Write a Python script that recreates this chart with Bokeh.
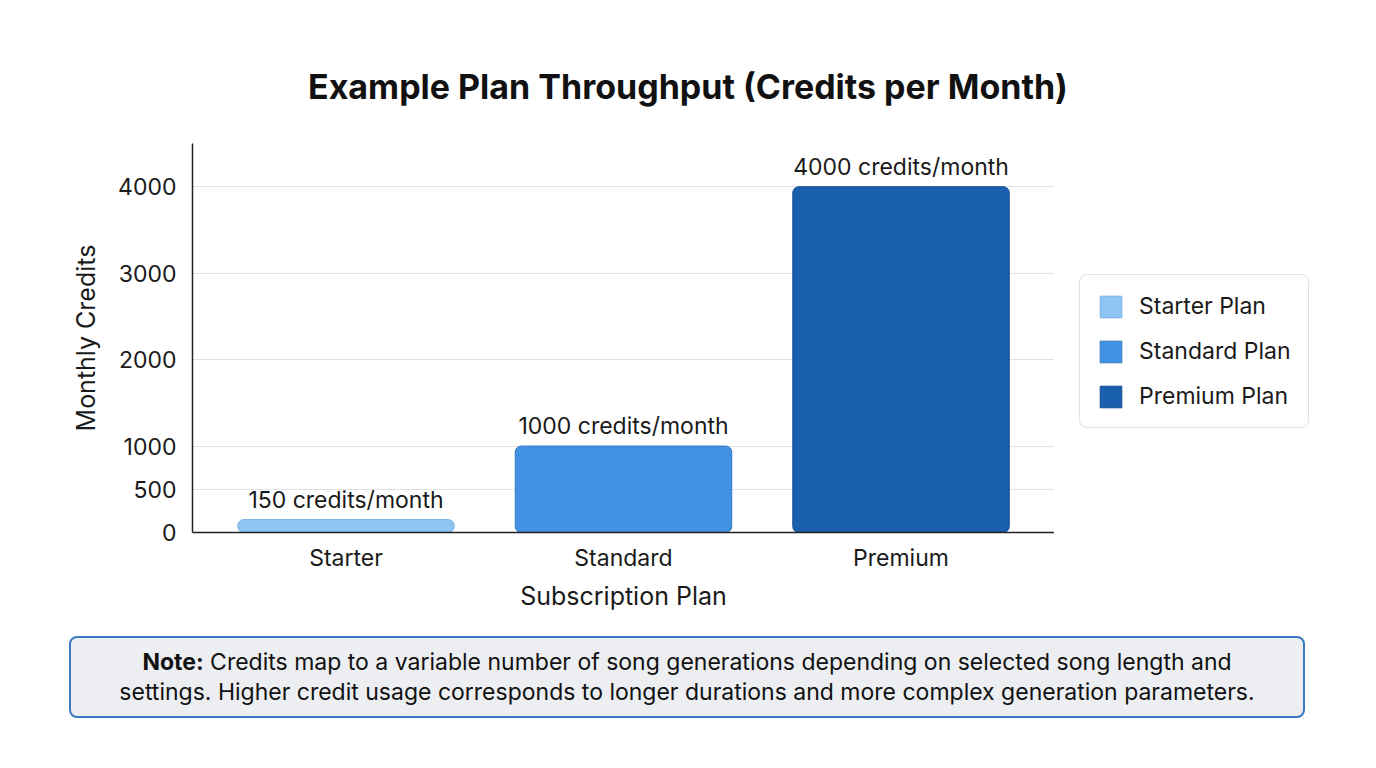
from bokeh.plotting import figure
from bokeh.models import (ColumnDataSource, FactorRange, FixedTicker, Legend, LegendItem,
                          Div, Range1d, VBar)
from bokeh.layouts import column, row
from bokeh.embed import file_html
from bokeh.resources import INLINE
from bokeh.core.properties import value

plans = ["Starter", "Standard", "Premium"]
credits = [150, 1000, 4000]
legend_labels = ["Starter Plan", "Standard Plan", "Premium Plan"]
bar_labels = ["150 credits/month", "1000 credits/month", "4000 credits/month"]
bar_colors = ["#8fc5f3", "#4391e2", "#1a5fae"]
edge_colors = ["#7ab3e6", "#3579c4", "#164f91"]
y_ticks = [0, 500, 1000, 2000, 3000, 4000]

title = "Example Plan Throughput (Credits per Month)"
note_html = ("<b>Note:</b> Credits map to a variable number of song generations depending on selected song length and"
             "<br>settings. Higher credit usage corresponds to longer durations and more complex generation parameters.")

FONT = "Inter"

src = ColumnDataSource(dict(plan=plans, credits=credits, label=bar_labels))

title_div = Div(text=title, width=1360, height=143, margin=0,
                styles={"font-family": FONT, "font-size": "34px", "font-weight": "700",
                        "color": "#111111", "text-align": "center", "line-height": "40px",
                        "box-sizing": "border-box", "padding-top": "67px", "padding-left": "16px",
                        "white-space": "nowrap"})

p = figure(x_range=FactorRange(factors=plans, range_padding=0.053, range_padding_units="absolute"),
           y_range=Range1d(0, 4500), width=1054, height=485,
           output_backend="svg", toolbar_location=None,
           min_border_left=192, min_border_right=0, min_border_top=0, min_border_bottom=96)

bar_kw = {}
if "border_radius" in VBar.properties():
    bar_kw["border_radius"] = 6

for i in range(len(plans)):
    one = ColumnDataSource(dict(plan=[plans[i]], credits=[credits[i]]))
    p.vbar(x="plan", top="credits", width=0.78, source=one,
           fill_color=bar_colors[i], line_color=edge_colors[i], line_width=1, **bar_kw)

p.text(x="plan", y="credits", text="label", source=src, text_align="center",
       text_baseline="bottom", y_offset=-6, text_font=value(FONT),
       text_font_size="23px", text_color="#1a1a1a")

p.xgrid.grid_line_color = None
p.ygrid.grid_line_color = "#e3e3e3"
p.ygrid.grid_line_width = 1.2
p.yaxis.ticker = FixedTicker(ticks=y_ticks)
p.outline_line_color = None

for ax in (p.xaxis, p.yaxis):
    ax.axis_line_color = "#222222"
    ax.axis_line_width = 1.5
    ax.major_tick_line_color = None
    ax.minor_tick_line_color = None
    ax.major_label_text_font = FONT
    ax.major_label_text_color = "#1a1a1a"
    ax.axis_label_text_font = FONT
    ax.axis_label_text_font_size = "25px"
    ax.axis_label_text_font_style = "normal"
    ax.axis_label_text_color = "#1a1a1a"

p.xaxis.major_label_text_font_size = "23px"
p.yaxis.major_label_text_font_size = "23px"
p.xaxis.major_label_standoff = 5
p.yaxis.major_label_standoff = 10
p.xaxis.axis_label = "Subscription Plan"
p.yaxis.axis_label = "Monthly Credits"
p.xaxis.axis_label_standoff = 6
p.yaxis.axis_label_standoff = 14

# separate narrow figure that only carries the legend, right of the plot
leg_fig = figure(x_range=FactorRange(factors=plans), y_range=Range1d(0, 4500),
                 width=306, height=485, x_axis_type=None, y_axis_type=None,
                 output_backend="svg", toolbar_location=None, min_border=0)
leg_fig.outline_line_color = None
leg_fig.grid.visible = False

items = []
for i in range(len(plans)):
    one = ColumnDataSource(dict(plan=[plans[i]], credits=[credits[i]]))
    r = leg_fig.vbar(x="plan", top="credits", width=0.78, source=one, visible=False,
                     fill_color=bar_colors[i], line_color=edge_colors[i], line_width=1)
    items.append(LegendItem(label=legend_labels[i], renderers=[r]))

legend = Legend(items=items, location=(25, 104))
legend.glyph_width = 27
legend.glyph_height = 27
legend.label_standoff = 15
legend.spacing = 17
legend.padding = 17
legend.margin = 0
legend.label_text_font = FONT
legend.label_text_font_size = "23px"
legend.label_text_color = "#1a1a1a"
legend.border_line_color = "#c8c8c8"
legend.border_line_width = 1.5
legend.background_fill_alpha = 1
if "border_radius" in Legend.properties():
    legend.border_radius = 8
leg_fig.add_layout(legend)

note = Div(text=note_html, width=1236, height=82, margin=(8, 0, 0, 69),
           styles={"background-color": "#eceef1", "border": "2px solid #3d79c0",
                   "border-radius": "8px", "font-family": FONT, "font-size": "23px",
                   "text-align": "center", "line-height": "30px", "color": "#111111",
                   "box-sizing": "border-box", "padding-top": "9px", "white-space": "nowrap"})

layout = column(title_div, row(p, leg_fig, spacing=0), note, spacing=0)

open("out.html", "w").write(file_html(layout, INLINE))
